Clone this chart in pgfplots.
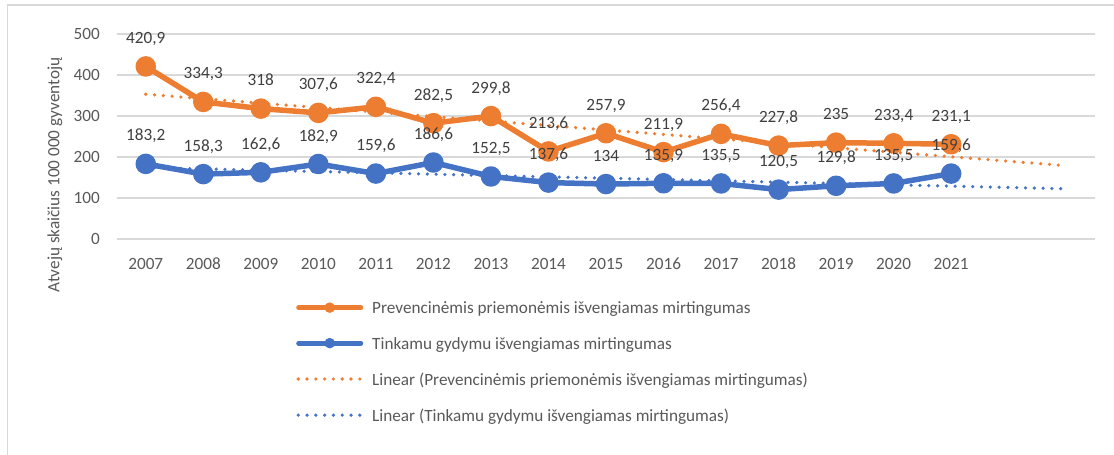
\documentclass[border=0pt]{standalone}
\usepackage{fontspec}
\setmainfont{Carlito}
\usepackage{pgfplots}
\pgfplotsset{compat=1.18}
\definecolor{corange}{HTML}{ED7D31}
\definecolor{cblue}{HTML}{4472C4}
\definecolor{cgrid}{HTML}{D9D9D9}
\definecolor{ctext}{HTML}{595959}
\definecolor{clabel}{HTML}{404040}
\newcommand{\cf}{\fontsize{17.2pt}{20pt}\selectfont}
\begin{document}
\begin{tikzpicture}[x=1pt,y=1pt]
\useasboundingbox (0,0) rectangle (1114,455);
\draw[cgrid, line width=1.2pt] (7.5,0) -- (7.5,450) -- (1114,450);
\begin{axis}[
  at={(117pt,216pt)}, anchor=south west,
  scale only axis, width=978pt, height=205pt,
  xmin=-0.5, xmax=16.5, ymin=0, ymax=500,
  clip=false,
  xtick={0,1,2,3,4,5,6,7,8,9,10,11,12,13,14},
  xticklabels={2007,2008,2009,2010,2011,2012,2013,2014,2015,2016,2017,2018,2019,2020,2021},
  ytick={0,100,200,300,400,500},
  ymajorgrids,
  major grid style={cgrid, line width=1.5pt},
  axis line style={draw=none},
  tick style={draw=none},
  ticklabel style={font=\cf, text=ctext},
  /pgf/number format/assume math mode=true,
  xticklabel style={inner sep=0pt, anchor=north, yshift=-19pt},
  yticklabel style={inner sep=0pt, anchor=east, xshift=-17pt},
  ylabel={Atvejų skaičius 100 000 gyventojų},
  ylabel style={font=\cf, text=ctext, at={(axis description cs:-0.0634,0.312)}, anchor=center},
  legend style={at={(axis description cs:0.18,-0.295)}, anchor=north west,
    draw=none, fill=none, font=\cf, text=ctext, row sep=23.6pt,
    nodes={inner sep=0pt, text depth=0pt}},
  legend cell align=left,
  legend image code/.code={
    \draw[#1] (2pt,0pt) -- (66pt,0pt);
    \path[draw=none, fill=none] (0pt,0pt) -- (76pt,0pt);
  },
]
\addplot[color=corange, line width=5.5pt, line join=round, mark=*, mark size=7.5pt, mark options={solid},
  legend image code/.code={
    \draw[corange, line width=4.8pt, line cap=round] (2.4pt,0pt) -- (64.6pt,0pt);
    \fill[corange, draw=none] (33.5pt,0pt) circle (5.3pt);
    \path[draw=none, fill=none] (0pt,0pt) -- (76pt,0pt);}]
coordinates {(0,420.9)(1,334.3)(2,318)(3,307.6)(4,322.4)(5,282.5)(6,299.8)(7,213.6)(8,257.9)(9,211.9)(10,256.4)(11,227.8)(12,235)(13,233.4)(14,231.1)};
\addlegendentry{Prevencinėmis priemonėmis išvengiamas mirtingumas}
\addplot[color=cblue, line width=5.5pt, line join=round, mark=*, mark size=7.5pt, mark options={solid},
  legend image code/.code={
    \draw[cblue, line width=4.8pt, line cap=round] (2.4pt,0pt) -- (64.6pt,0pt);
    \fill[cblue, draw=none] (33.5pt,0pt) circle (5.3pt);
    \path[draw=none, fill=none] (0pt,0pt) -- (76pt,0pt);}]
coordinates {(0,183.2)(1,158.3)(2,162.6)(3,182.9)(4,159.6)(5,186.6)(6,152.5)(7,137.6)(8,134)(9,135.9)(10,135.5)(11,120.5)(12,129.8)(13,135.5)(14,159.6)};
\addlegendentry{Tinkamu gydymu išvengiamas mirtingumas}
\addplot[color=corange, line width=3.6pt, line cap=round, dash pattern=on 0pt off 8.8pt, mark=none]
coordinates {(0,353.1)(16,178.8)};
\addlegendentry{Linear (Prevencinėmis priemonėmis išvengiamas mirtingumas)}
\addplot[color=cblue, line width=3.6pt, line cap=round, dash pattern=on 0pt off 8.8pt, mark=none]
coordinates {(0,174.3)(16,122.4)};
\addlegendentry{Linear (Tinkamu gydymu išvengiamas mirtingumas)}
% data labels
\addplot[forget plot, draw=none, mark=none, nodes near coords,
  nodes near coords style={font=\cf, text=clabel, anchor=base, inner sep=0pt, yshift=23pt},
  /pgf/number format/.cd, use comma, fixed, precision=1, 1000 sep={}]
coordinates {(0,420.9)(1,334.3)(2,318)(3,307.6)(4,322.4)(5,282.5)(6,299.8)(7,213.6)(8,257.9)(9,211.9)(10,256.4)(11,227.8)(12,235)(13,233.4)(14,231.1)};
\addplot[forget plot, draw=none, mark=none, nodes near coords,
  nodes near coords style={font=\cf, text=clabel, anchor=base, inner sep=0pt, yshift=23pt},
  /pgf/number format/.cd, use comma, fixed, precision=1, 1000 sep={}]
coordinates {(0,183.2)(1,158.3)(2,162.6)(3,182.9)(4,159.6)(5,186.6)(6,152.5)(7,137.6)(8,134)(9,135.9)(10,135.5)(11,120.5)(12,129.8)(13,135.5)(14,159.6)};
\end{axis}
\end{tikzpicture}
\end{document}
